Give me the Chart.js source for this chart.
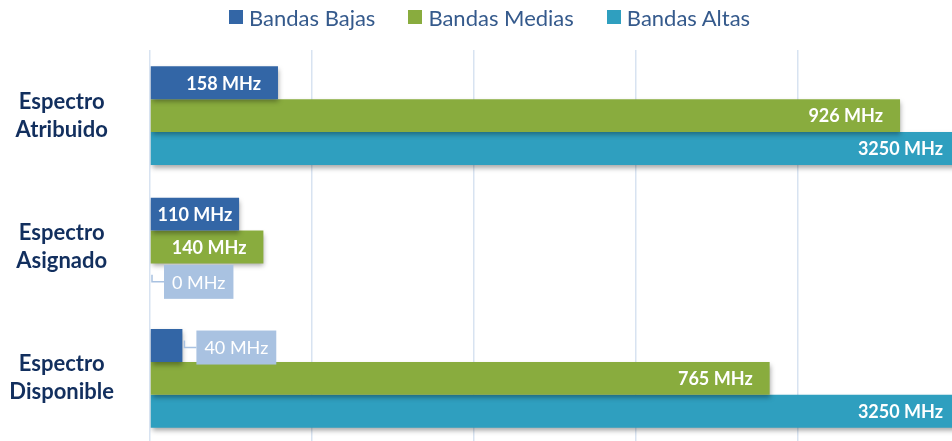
<!DOCTYPE html>
<html>
<head>
<meta charset="utf-8">
<script src="https://cdn.jsdelivr.net/npm/chart.js@4"></script>
<style>
  html, body { margin: 0; padding: 0; background: #fff; overflow: hidden; }
  #wrap { position: relative; width: 952px; height: 441px; overflow: hidden; }
  #legend {
    position: absolute; left: 229px; top: 2px; height: 30px;
    display: flex; align-items: center; gap: 33px;
    font-family: Lato, sans-serif; font-size: 22px; color: #355A8C;
  }
  #legend span.item { display: flex; align-items: center; gap: 6px; }
  #legend span.box { width: 14px; height: 14px; display: inline-block; }
  /* el lienzo sobresale arriba y abajo para compensar el relleno del eje y */
  #chartBox { position: absolute; left: 0; top: -6px; width: 962px; height: 506px; }
</style>
</head>
<body>
<div id="wrap">
  <div id="chartBox"><canvas id="myChart"></canvas></div>
  <div id="legend"></div>
</div>
<script>
// Datos
const categorias = [['Espectro', 'Atribuido'], ['Espectro', 'Asignado'], ['Espectro', 'Disponible']];
const series = ['Bandas Bajas', 'Bandas Medias', 'Bandas Altas'];
const bandasBajas = [158, 110, 40];
const bandasMedias = [926, 140, 765];
const bandasAltas = [3250, 0, 3250];
const colores = ['#3366A6', '#89AC3E', '#2F9FBF'];
const ejeMax = 1000;
const ejePaso = 200;

// Leyenda
const legend = document.getElementById('legend');
series.forEach((nombre, i) => {
  const item = document.createElement('span');
  item.className = 'item';
  item.innerHTML = '<span class="box" style="background:' + colores[i] + '"></span>' + nombre;
  legend.appendChild(item);
});

// Sombra de las barras
const sombra = {
  id: 'sombra',
  beforeDatasetsDraw(chart) {
    const c = chart.ctx;
    c.save();
    c.shadowColor = 'rgba(0,0,0,0.35)';
    c.shadowBlur = 5;
    c.shadowOffsetX = 1;
    c.shadowOffsetY = 3;
  },
  afterDatasetsDraw(chart) {
    chart.ctx.restore();
  }
};

// Etiquetas de valores
const etiquetas = {
  id: 'etiquetas',
  afterDatasetsDraw(chart) {
    const c = chart.ctx;
    const area = chart.chartArea;
    c.save();
    c.textBaseline = 'middle';
    chart.data.datasets.forEach((ds, di) => {
      chart.getDatasetMeta(di).data.forEach((bar, i) => {
        const v = ds.data[i];
        const texto = v + ' MHz';
        const fin = Math.min(bar.x, area.right);
        const ancho = fin - bar.base;
        c.font = 'bold 18px Lato';
        const tw = c.measureText(texto).width;
        if (ancho > tw + 10) {
          const pad = Math.min(17, (ancho - tw) / 2);
          c.fillStyle = '#fff';
          c.textAlign = 'right';
          c.fillText(texto, fin - pad, bar.y + 1);
        } else {
          c.font = '18px Lato';
          const w = c.measureText(texto).width + 16;
          const h = 34;
          const bx = fin + 14;
          const by = bar.y + 2;
          c.strokeStyle = '#A9C2E1';
          c.lineWidth = 1.5;
          c.beginPath();
          c.moveTo(fin + 2, bar.y - 5);
          c.lineTo(fin + 2, by);
          c.lineTo(bx, by);
          c.stroke();
          c.fillStyle = '#A9C2E1';
          c.fillRect(bx, by - h / 2, w, h);
          c.fillStyle = '#fff';
          c.textAlign = 'left';
          c.fillText(texto, bx + 8, by + 1);
        }
      });
    });
    c.restore();
  }
};

const ctx = document.getElementById('myChart');

new Chart(ctx, {
  type: 'bar',
  data: {
    labels: categorias,
    datasets: [
      { label: series[0], data: bandasBajas, backgroundColor: colores[0] },
      { label: series[1], data: bandasMedias, backgroundColor: colores[1] },
      { label: series[2], data: bandasAltas, backgroundColor: colores[2] }
    ]
  },
  options: {
    indexAxis: 'y',
    responsive: true,
    maintainAspectRatio: false,
    animation: false,
    layout: { padding: { left: 0, right: 2, top: 0, bottom: 0 } },
    datasets: {
      bar: { categoryPercentage: 0.75, barPercentage: 1.0 }
    },
    scales: {
      x: {
        min: 0,
        max: ejeMax,
        ticks: { display: false, stepSize: ejePaso },
        grid: { color: '#D8E3F1', lineWidth: 1.5, drawTicks: false },
        border: { display: false }
      },
      y: {
        grid: { display: false },
        border: { display: false },
        ticks: {
          crossAlign: 'center',
          padding: 28,
          color: '#122F5E',
          font: { family: 'Lato', size: 22, weight: 'bold', lineHeight: 1.27 }
        },
        afterFit(scale) { scale.width = 150; }
      }
    },
    plugins: {
      legend: { display: false },
      tooltip: { enabled: false }
    }
  },
  plugins: [sombra, etiquetas]
});
</script>
</body>
</html>
